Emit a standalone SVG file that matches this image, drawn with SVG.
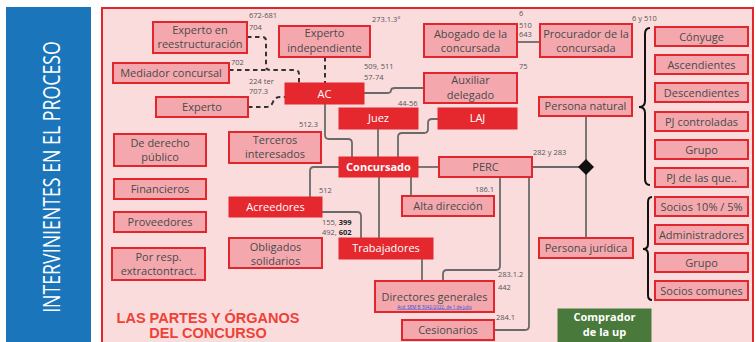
<svg xmlns="http://www.w3.org/2000/svg" width="756" height="342" viewBox="0 0 756 342">
<style>
.n rect{fill:#F4A8AE;stroke:#E1262E;stroke-width:2}
.d rect{fill:#E5272E;stroke:#E5272E;stroke-width:1}
.g rect{fill:#4A7A3B;stroke:#4A7A3B}
text{font-family:"Open Sans","Liberation Sans",sans-serif}
.t{font-size:11px;fill:#4a4a4a;text-anchor:middle}
.w{fill:#fff}
.b{font-weight:bold}
.l{font-size:7.5px;fill:#555}
.c path{fill:none;stroke:#6a6a6a;stroke-width:1.8}
.c path.x{stroke:#333;stroke-dasharray:4.5 3.5;stroke-width:2}
.br{fill:none;stroke:#111;stroke-width:2}
.ttl{font-family:"Liberation Sans",Arial,sans-serif;font-weight:bold;font-size:14.5px;fill:#EF4135;text-anchor:middle}
</style>
<rect x="0" y="0" width="756" height="342" fill="#fff"/>
<rect x="6" y="7" width="85" height="340" fill="#1B75BB"/>
<text transform="translate(60,177) rotate(-90) scale(0.74,1)" text-anchor="middle" font-family="'DejaVu Sans',sans-serif" font-size="24" fill="#fff">INTERVINIENTES EN EL PROCESO</text>
<rect x="102" y="8" width="651" height="340" fill="#FADCDD" stroke="#E1262E" stroke-width="2"/>

<g class="c" id="connectors">
<path d="M517,42 H540"/>
<path d="M364,93 H387 Q391,93 391,90.5 Q391,88 395,88 H424"/>
<path d="M325,104 V135 Q325,139 329,139 H348 Q352,139 352,143 V157"/>
<path d="M378,129 V157"/>
<path d="M438,119 H432 Q428,119 428,123 V129 Q428,133 424,133 H402 Q398,133 398,137 V157"/>
<path d="M418,167 H439"/>
<path d="M339,167 H314 Q310,167 310,171 V197"/>
<path d="M411,177 V196"/>
<path d="M379,177 V238"/>
<path d="M322,212 H357 Q361,212 361,216 V238"/>
<path d="M532,167 H580"/>
<path d="M586,116 V238"/>
<path d="M500,177 V266 Q500,270 496,270 H447 Q443,270 443,274 V281"/>
<path d="M529,177 V326 Q529,330 525,330 H494"/>
<path d="M422,259 V281"/>
<path class="x" d="M247,37 H262 Q266,37 266,41 V66 Q266,70 270,70 H295 Q299,70 299,74 V83"/>
<path class="x" d="M229,70 H266"/>
<path class="x" d="M248,107 H266 Q271,107 273,102 Q275,97 280,97 H285"/>
<path class="x" d="M325,57 V83"/>
</g>

<polygon points="586,159 594,167 586,175 578,167" fill="#111"/>
<path class="br" d="M650,28 Q645,28 645,34 V101 Q645,107 639,107 Q645,107 645,113 V179 Q645,185 650,185"/>
<path class="br" d="M652,197 Q648,197 648,202 V244 Q648,249 643,249 Q648,249 648,254 V295 Q648,300 652,300"/>

<g id="n-reestructuracion" class="n"><rect x="153" y="22" width="94" height="31"/><text class="t" x="200" y="33.5">Experto en</text><text class="t" x="200" y="47.5">reestructuración</text></g>
<g id="n-mediador" class="n"><rect x="113" y="63" width="116" height="20"/><text class="t" x="171" y="77">Mediador concursal</text></g>
<g id="n-experto" class="n"><rect x="156" y="97" width="92" height="20"/><text class="t" x="202" y="111">Experto</text></g>
<g id="n-independiente" class="n"><rect x="279" y="26" width="91" height="31"/><text class="t" x="324.5" y="37">Experto</text><text class="t" x="324.5" y="51.5">independiente</text></g>
<g id="n-ac" class="d"><rect x="285" y="83" width="79" height="21"/><text class="t w" x="324.5" y="97.5">AC</text></g>
<g id="n-abogado" class="n"><rect x="424" y="24" width="93" height="33"/><text class="t" x="470.5" y="37.5">Abogado de la</text><text class="t" x="470.5" y="52">concursada</text></g>
<g id="n-procurador" class="n"><rect x="540" y="24" width="92" height="33"/><text class="t" x="586" y="37.5">Procurador de la</text><text class="t" x="586" y="52">concursada</text></g>
<g id="n-auxiliar" class="n"><rect x="424" y="73" width="93" height="30"/><text class="t" x="470.5" y="84">Auxiliar</text><text class="t" x="470.5" y="98.5">delegado</text></g>
<g id="n-juez" class="d"><rect x="339" y="108" width="79" height="21"/><text class="t w" x="378.5" y="122">Juez</text></g>
<g id="n-laj" class="d"><rect x="438" y="108" width="79" height="21"/><text class="t w" x="477.5" y="122">LAJ</text></g>
<g id="n-natural" class="n"><rect x="539" y="97" width="93" height="19"/><text class="t" x="585.5" y="110">Persona natural</text></g>
<g id="n-terceros" class="n"><rect x="229" y="132" width="92" height="31"/><text class="t" x="275" y="143.5">Terceros</text><text class="t" x="275" y="157.5">interesados</text></g>
<g id="n-derecho" class="n"><rect x="114" y="134" width="92" height="32"/><text class="t" x="160" y="146.5">De derecho</text><text class="t" x="160" y="161">público</text></g>
<g id="n-financieros" class="n"><rect x="114" y="179" width="92" height="20"/><text class="t" x="160" y="193">Financieros</text></g>
<g id="n-proveedores" class="n"><rect x="114" y="212" width="92" height="20"/><text class="t" x="160" y="226">Proveedores</text></g>
<g id="n-porresp" class="n"><rect x="112" y="248" width="93" height="32"/><text class="t" x="158.5" y="260.5">Por resp.</text><text class="t" x="158.5" y="275">extractontract.</text></g>
<g id="n-concursado" class="d"><rect x="339" y="157" width="79" height="20"/><text class="t w b" x="378.5" y="171">Concursado</text></g>
<g id="n-perc" class="n"><rect x="439" y="157" width="93" height="20"/><text class="t" x="485.5" y="171">PERC</text></g>
<g id="n-acreedores" class="d"><rect x="229" y="197" width="93" height="20"/><text class="t w" x="275.5" y="211">Acreedores</text></g>
<g id="n-alta" class="n"><rect x="402" y="196" width="92" height="20"/><text class="t" x="448" y="210">Alta dirección</text></g>
<g id="n-obligados" class="n"><rect x="229" y="238" width="93" height="30"/><text class="t" x="275.5" y="250.5">Obligados</text><text class="t" x="275.5" y="265">solidarios</text></g>
<g id="n-trabajadores" class="d"><rect x="339" y="238" width="94" height="21"/><text class="t w" x="386" y="252">Trabajadores</text></g>
<g id="n-directores" class="n"><rect x="375" y="281" width="119" height="31"/><text class="t" x="434.5" y="300.5">Directores generales</text><text x="434.5" y="308.5" text-anchor="middle" font-size="4.5" fill="#2B4FD8" text-decoration="underline">Acd. SEM B 3042/2022, de 1 de julio</text></g>
<g id="n-cesionarios" class="n"><rect x="402" y="320" width="92" height="20"/><text class="t" x="448" y="334">Cesionarios</text></g>
<g id="n-juridica" class="n"><rect x="539" y="238" width="94" height="20"/><text class="t" x="586" y="252">Persona jurídica</text></g>
<g id="n-conyuge" class="n"><rect x="655" y="27" width="93" height="19"/><text class="t" x="701.5" y="41">Cónyuge</text></g>
<g id="n-ascendientes" class="n"><rect x="655" y="55" width="93" height="19"/><text class="t" x="701.5" y="69">Ascendientes</text></g>
<g id="n-descendientes" class="n"><rect x="655" y="83" width="93" height="19"/><text class="t" x="701.5" y="97">Descendientes</text></g>
<g id="n-pjcontroladas" class="n"><rect x="655" y="112" width="93" height="19"/><text class="t" x="701.5" y="125.5">PJ controladas</text></g>
<g id="n-grupo1" class="n"><rect x="655" y="140" width="93" height="19"/><text class="t" x="701.5" y="153.5">Grupo</text></g>
<g id="n-pjdelasque" class="n"><rect x="655" y="168" width="93" height="19"/><text class="t" x="701.5" y="181.5">PJ de las que..</text></g>
<g id="n-socios10" class="n"><rect x="655" y="197" width="93" height="19"/><text class="t" x="701.5" y="210.5">Socios 10% / 5%</text></g>
<g id="n-administradores" class="n"><rect x="655" y="225" width="93" height="19"/><text class="t" x="701.5" y="238.5">Administradores</text></g>
<g id="n-grupo2" class="n"><rect x="655" y="253" width="93" height="19"/><text class="t" x="701.5" y="266.5">Grupo</text></g>
<g id="n-socioscomunes" class="n"><rect x="655" y="281" width="93" height="19"/><text class="t" x="701.5" y="294.5">Socios comunes</text></g>
<g id="n-comprador" class="g"><rect x="558" y="309" width="93" height="40"/><text class="t w b" x="604.5" y="321">Comprador</text><text class="t w b" x="604.5" y="336">de la up</text></g>

<g id="labels">
<text class="l" x="249" y="18">672-681</text>
<text class="l" x="249" y="30">704</text>
<text class="l" x="231" y="65">702</text>
<text class="l" x="249" y="84">224 ter</text>
<text class="l" x="249" y="94">707.3</text>
<text class="l" x="372" y="22">273.1.3º</text>
<text class="l" x="364" y="69">509, 511</text>
<text class="l" x="364" y="80">57-74</text>
<text class="l" x="398" y="106">44-56</text>
<text class="l" x="299" y="127">512.3</text>
<text class="l" x="519" y="16">6</text>
<text class="l" x="519" y="28">510</text>
<text class="l" x="519" y="37">643</text>
<text class="l" x="519" y="69">75</text>
<text class="l" x="632" y="21">6 y 510</text>
<text class="l" x="533" y="155">282 y 283</text>
<text class="l" x="475" y="192">186.1</text>
<text class="l" x="319" y="193">512</text>
<text class="l" x="322" y="225">155, <tspan font-weight="bold" fill="#222">399</tspan></text>
<text class="l" x="322" y="235">492, <tspan font-weight="bold" fill="#222">602</tspan></text>
<text class="l" x="498" y="277">283.1.2</text>
<text class="l" x="498" y="290">442</text>
<text class="l" x="496" y="320">284.1</text>
</g>

<text class="ttl" x="208" y="323">LAS PARTES Y ÓRGANOS</text>
<text class="ttl" x="208" y="338">DEL CONCURSO</text>
</svg>
